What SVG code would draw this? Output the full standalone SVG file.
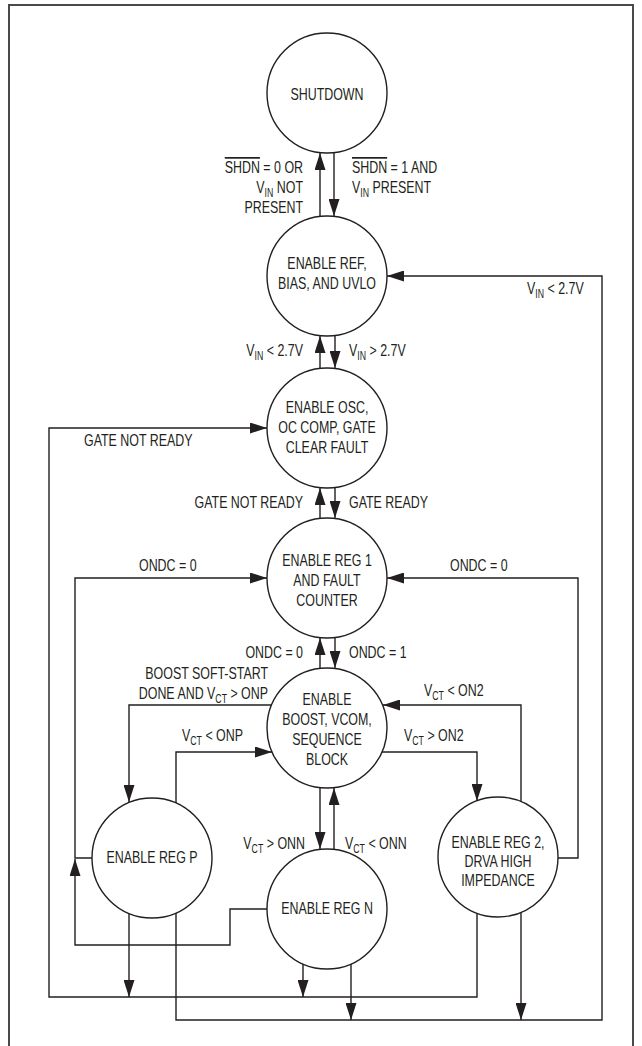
<svg xmlns="http://www.w3.org/2000/svg" width="642" height="1046" viewBox="0 0 642 1046">
<style>
.n{fill:#fff;stroke:#231f20;stroke-width:1.4}
.c{fill:none;stroke:#231f20;stroke-width:1.4}
.a{marker-end:url(#ah)}
text,tspan{font-family:"Liberation Sans",Arial,Helvetica,sans-serif;fill:#231f20}
text{font-size:17px}
.m{text-anchor:middle}
.e{text-anchor:end}
.s{font-size:12px;fill:#231f20}
.ov{text-decoration:overline}
</style>
<defs>
<marker id="ah" markerUnits="userSpaceOnUse" viewBox="0 0 17 11" refX="17" refY="5.5" markerWidth="17" markerHeight="11" orient="auto">
<path d="M0,0 L17,5.5 L0,11 z" fill="#231f20"/>
</marker>
</defs>
<rect width="642" height="1046" fill="#fff"/>
<rect x="9" y="5" width="624" height="1050" fill="none" stroke="#4a4a4a" stroke-width="2"/>

<g id="connectors">
<path class="c a" d="M320,216 V153"/>
<path class="c a" d="M334,153 V216"/>
<path class="c a" d="M320,368 V336"/>
<path class="c a" d="M335,336 V368"/>
<path class="c a" d="M320,518 V488"/>
<path class="c a" d="M335,488 V518"/>
<path class="c a" d="M320,668 V638"/>
<path class="c a" d="M335,638 V668"/>
<path class="c a" d="M320,788 V849"/>
<path class="c a" d="M334,849 V788"/>
<path class="c a" d="M477,913 V997 H49 V428 H267"/>
<path class="c a" d="M129,914 V997"/>
<path class="c a" d="M303,964 V997"/>
<path class="c a" d="M176,913 V1020 H602 V276 H387"/>
<path class="c a" d="M351,964 V1020"/>
<path class="c a" d="M521,912 V1020"/>
<path class="c a" d="M92,858 H75 V578 H267"/>
<path class="c a" d="M267,909 H230 V945 H75 V859"/>
<path class="c a" d="M558,858 H578 V578 H387"/>
<path class="c a" d="M272,705 H129 V802"/>
<path class="c a" d="M176,803 V752 H272"/>
<path class="c a" d="M382,752 H477 V801"/>
<path class="c a" d="M521,802 V705 H383"/>
</g>

<g id="labels">
<text class="e" transform="translate(303,173) scale(0.73,1)"><tspan class="ov">SHDN</tspan> = 0 OR</text>
<text class="e" transform="translate(303,193) scale(0.73,1)">V<tspan class="s" dy="4">IN</tspan><tspan dy="-4"> NOT</tspan></text>
<text class="e" transform="translate(303,213) scale(0.73,1)">PRESENT</text>
<text transform="translate(352,173) scale(0.73,1)"><tspan class="ov">SHDN</tspan> = 1 AND</text>
<text transform="translate(352,193) scale(0.73,1)">V<tspan class="s" dy="4">IN</tspan><tspan dy="-4"> PRESENT</tspan></text>
<text class="e" transform="translate(303,356) scale(0.73,1)">V<tspan class="s" dy="4">IN</tspan><tspan dy="-4"> &lt; 2.7V</tspan></text>
<text transform="translate(349,356) scale(0.73,1)">V<tspan class="s" dy="4">IN</tspan><tspan dy="-4"> &gt; 2.7V</tspan></text>
<text transform="translate(527,294) scale(0.73,1)">V<tspan class="s" dy="4">IN</tspan><tspan dy="-4"> &lt; 2.7V</tspan></text>
<text transform="translate(84,446) scale(0.73,1)">GATE NOT READY</text>
<text class="e" transform="translate(303,508) scale(0.73,1)">GATE NOT READY</text>
<text transform="translate(349,508) scale(0.73,1)">GATE READY</text>
<text transform="translate(139,571) scale(0.73,1)">ONDC = 0</text>
<text transform="translate(450,571) scale(0.73,1)">ONDC = 0</text>
<text class="e" transform="translate(303,658) scale(0.73,1)">ONDC = 0</text>
<text transform="translate(349,658) scale(0.73,1)">ONDC = 1</text>
<text class="e" transform="translate(268,679) scale(0.73,1)">BOOST SOFT-START</text>
<text class="e" transform="translate(268,699) scale(0.73,1)">DONE AND V<tspan class="s" dy="4">CT</tspan><tspan dy="-4"> &gt; ONP</tspan></text>
<text transform="translate(424,696) scale(0.73,1)">V<tspan class="s" dy="4">CT</tspan><tspan dy="-4"> &lt; ON2</tspan></text>
<text transform="translate(182,741) scale(0.73,1)">V<tspan class="s" dy="4">CT</tspan><tspan dy="-4"> &lt; ONP</tspan></text>
<text transform="translate(404,741) scale(0.73,1)">V<tspan class="s" dy="4">CT</tspan><tspan dy="-4"> &gt; ON2</tspan></text>
<text class="e" transform="translate(305,849) scale(0.73,1)">V<tspan class="s" dy="4">CT</tspan><tspan dy="-4"> &gt; ONN</tspan></text>
<text transform="translate(345,849) scale(0.73,1)">V<tspan class="s" dy="4">CT</tspan><tspan dy="-4"> &lt; ONN</tspan></text>
</g>

<g id="shutdown">
<circle class="n" cx="327" cy="93" r="60"/>
<text class="m" transform="translate(327,100) scale(0.73,1)">SHUTDOWN</text>
</g>
<g id="enable-ref">
<circle class="n" cx="327" cy="276" r="60"/>
<text class="m" transform="translate(327,269) scale(0.73,1)">ENABLE REF,</text>
<text class="m" transform="translate(327,289) scale(0.73,1)">BIAS, AND UVLO</text>
</g>
<g id="enable-osc">
<circle class="n" cx="327" cy="428" r="60"/>
<text class="m" transform="translate(327,413) scale(0.73,1)">ENABLE OSC,</text>
<text class="m" transform="translate(327,433) scale(0.73,1)">OC COMP, GATE</text>
<text class="m" transform="translate(327,453) scale(0.73,1)">CLEAR FAULT</text>
</g>
<g id="enable-reg1">
<circle class="n" cx="327" cy="578" r="60"/>
<text class="m" transform="translate(327,566) scale(0.73,1)">ENABLE REG 1</text>
<text class="m" transform="translate(327,586) scale(0.73,1)">AND FAULT</text>
<text class="m" transform="translate(327,606) scale(0.73,1)">COUNTER</text>
</g>
<g id="enable-boost">
<circle class="n" cx="327" cy="728" r="60"/>
<text class="m" transform="translate(327,705) scale(0.73,1)">ENABLE</text>
<text class="m" transform="translate(327,725) scale(0.73,1)">BOOST, VCOM,</text>
<text class="m" transform="translate(327,745) scale(0.73,1)">SEQUENCE</text>
<text class="m" transform="translate(327,765) scale(0.73,1)">BLOCK</text>
</g>
<g id="enable-regp">
<circle class="n" cx="152" cy="858" r="60"/>
<text class="m" transform="translate(152,863) scale(0.73,1)">ENABLE REG P</text>
</g>
<g id="enable-regn">
<circle class="n" cx="327" cy="909" r="60"/>
<text class="m" transform="translate(327,914) scale(0.73,1)">ENABLE REG N</text>
</g>
<g id="enable-reg2">
<circle class="n" cx="498" cy="857" r="60"/>
<text class="m" transform="translate(498,848) scale(0.73,1)">ENABLE REG 2,</text>
<text class="m" transform="translate(498,867) scale(0.73,1)">DRVA HIGH</text>
<text class="m" transform="translate(498,886) scale(0.73,1)">IMPEDANCE</text>
</g>
</svg>
